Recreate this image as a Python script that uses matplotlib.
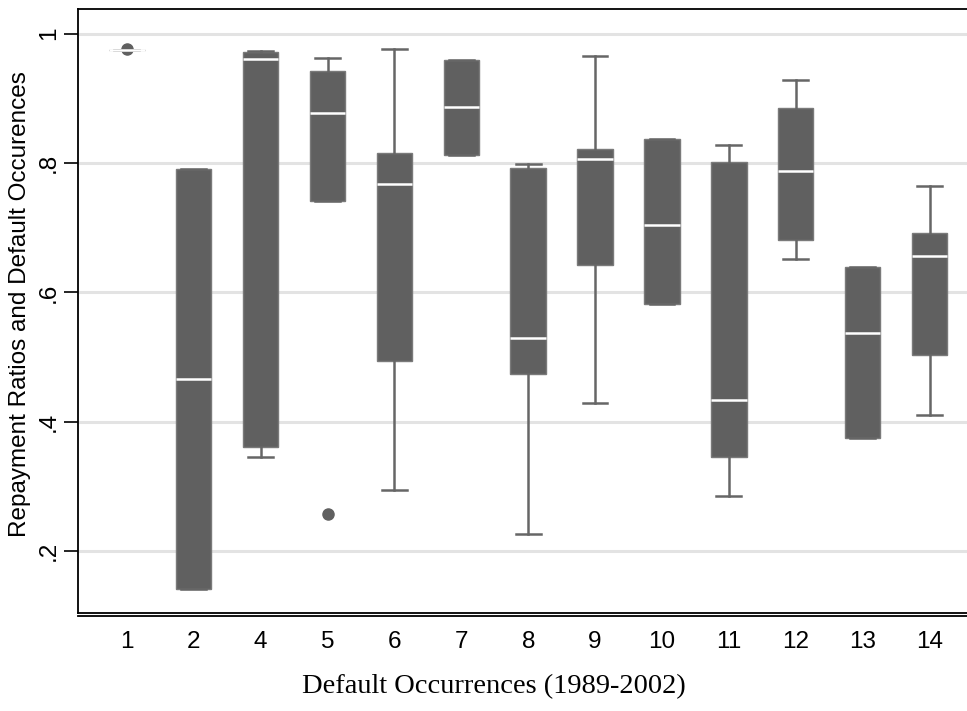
import matplotlib
matplotlib.use("Agg")
import matplotlib.pyplot as plt
import matplotlib.transforms as mtransforms

# categorias (numero de defaults) y estadisticos
categories = ["1", "2", "4", "5", "6", "7", "8", "9", "10", "11", "12", "13", "14"]
q1 = [0.975, 0.141, 0.361, 0.742, 0.494, 0.812, 0.474, 0.642, 0.582, 0.346, 0.681, 0.375, 0.503]
medians = [0.975, 0.466, 0.961, 0.877, 0.768, 0.886, 0.529, 0.807, 0.704, 0.434, 0.788, 0.538, 0.657]
q3 = [0.975, 0.791, 0.971, 0.943, 0.815, 0.960, 0.793, 0.822, 0.837, 0.802, 0.885, 0.640, 0.692]
whisk_lo = [0.975, 0.141, 0.345, 0.742, 0.294, 0.812, 0.227, 0.429, 0.582, 0.285, 0.651, 0.375, 0.410]
whisk_hi = [0.975, 0.791, 0.974, 0.963, 0.977, 0.960, 0.799, 0.966, 0.837, 0.828, 0.929, 0.640, 0.765]
outliers = [[0.976], [], [], [0.258], [], [], [], [], [], [], [], [], []]

stats = []
for i, lab in enumerate(categories):
    stats.append({
        "label": lab,
        "q1": q1[i], "med": medians[i], "q3": q3[i],
        "whislo": whisk_lo[i], "whishi": whisk_hi[i],
        "fliers": outliers[i],
    })

fig = plt.figure(figsize=(9.67, 7.11), dpi=100)
ax = fig.add_axes([0.0807, 0.1383, 0.9193, 0.8486])

box_col = "#606060"
ax.bxp(stats, positions=range(len(categories)), widths=0.53, patch_artist=True,
       capwidths=0.37,
       boxprops=dict(facecolor=box_col, edgecolor="#7a7a7a", linewidth=1.0),
       medianprops=dict(color="white", linewidth=1.8),
       whiskerprops=dict(color="#666666", linewidth=1.8),
       capprops=dict(color="#666666", linewidth=1.8),
       flierprops=dict(marker="o", markersize=8, markerfacecolor=box_col,
                       markeredgecolor=box_col),
       zorder=3)

ax.set_xlim(-0.73, 12.56)
ax.set_ylim(0.105, 1.0377)
ax.set_yticks([0.2, 0.4, 0.6, 0.8, 1.0])
ax.set_yticklabels([".2", ".4", ".6", ".8", "1"], rotation=90, va="center",
                   fontsize=17.5, family="Liberation Sans")
ax.set_xticks(range(len(categories)))
ax.set_xticklabels(categories, fontsize=17.5, family="Liberation Sans")
ax.tick_params(axis="x", length=0, pad=13)
ax.tick_params(axis="y", length=10, width=1.2, pad=3)
ax.yaxis.grid(True, color="#e3e3e3", linewidth=2.2, zorder=0)
ax.set_axisbelow(True)

ax.spines["right"].set_visible(False)
ax.spines["top"].set_linewidth(1.3)
ax.spines["left"].set_linewidth(1.3)
ax.spines["bottom"].set_linewidth(1.3)

# linea doble del eje x (estilo Stata)
off = mtransforms.ScaledTranslation(0, -2.2 / 72, fig.dpi_scale_trans)
ax.plot([0, 1], [0, 0], transform=ax.transAxes + off, color="black",
        linewidth=1.3, clip_on=False)

fig.text(0.021, 0.572, "Repayment Ratios and Default Occurences", rotation=90,
         ha="center", va="center", fontsize=17.5, family="Liberation Sans")
fig.text(0.511, 0.034, "Default Occurrences (1989-2002)", ha="center",
         va="center", fontsize=20.5, family="Liberation Serif")

fig.savefig("out.png", dpi=100)
